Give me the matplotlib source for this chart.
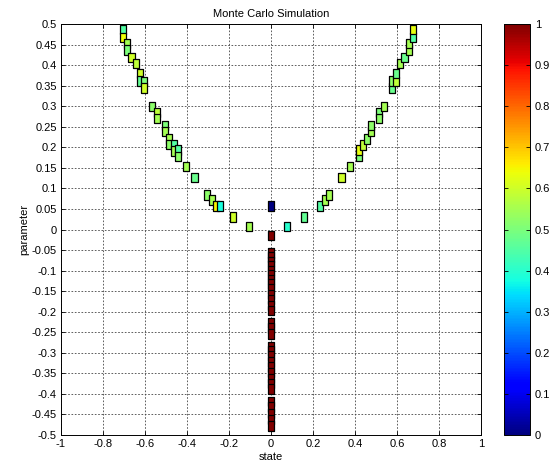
import numpy as np
import matplotlib
matplotlib.use('Agg')
import matplotlib.pyplot as plt

plt.rcParams['font.family'] = ['Liberation Sans', 'DejaVu Sans']
plt.rcParams['font.size'] = 8

# left branch of the V (state, parameter, colour value)
left_x = [-0.703, -0.703, -0.684, -0.684, -0.664, -0.641, -0.624, -0.624, -0.603, -0.603,
          -0.565, -0.541, -0.541, -0.503, -0.503, -0.484, -0.484, -0.463, -0.463, -0.443,
          -0.443, -0.403, -0.364, -0.303, -0.282, -0.263, -0.243, -0.182, -0.103]
left_y = [0.486, 0.467, 0.453, 0.437, 0.418, 0.404, 0.379, 0.361, 0.360, 0.344,
          0.299, 0.285, 0.270, 0.253, 0.238, 0.220, 0.207, 0.206, 0.191, 0.193,
          0.177, 0.153, 0.126, 0.084, 0.072, 0.057, 0.057, 0.030, 0.007]
left_c = [0.45, 0.64, 0.55, 0.50, 0.60, 0.58, 0.60, 0.47, 0.50, 0.60,
          0.52, 0.58, 0.55, 0.50, 0.55, 0.55, 0.52, 0.45, 0.55, 0.45,
          0.52, 0.55, 0.48, 0.52, 0.55, 0.65, 0.38, 0.60, 0.55]

# right branch
right_x = [0.078, 0.157, 0.235, 0.257, 0.278, 0.336, 0.376, 0.417, 0.417, 0.437,
           0.456, 0.478, 0.478, 0.516, 0.516, 0.537, 0.576, 0.576, 0.595, 0.595,
           0.616, 0.636, 0.657, 0.657, 0.676, 0.676]
right_y = [0.007, 0.030, 0.057, 0.072, 0.084, 0.126, 0.153, 0.177, 0.193, 0.206,
           0.220, 0.238, 0.253, 0.285, 0.270, 0.299, 0.344, 0.361, 0.360, 0.379,
           0.404, 0.418, 0.437, 0.453, 0.467, 0.486]
right_c = [0.40, 0.47, 0.45, 0.55, 0.55, 0.60, 0.55, 0.50, 0.63, 0.58,
           0.52, 0.55, 0.52, 0.50, 0.52, 0.55, 0.48, 0.52, 0.58, 0.48,
           0.55, 0.48, 0.55, 0.55, 0.45, 0.63]

# points on state = 0
mid_y = [0.057, -0.015,
         -0.057, -0.067, -0.078, -0.088, -0.100, -0.110, -0.122, -0.133, -0.145,
         -0.158, -0.170, -0.185, -0.197,
         -0.227, -0.240, -0.254,
         -0.284, -0.296, -0.308, -0.322, -0.335, -0.348, -0.362, -0.375, -0.388,
         -0.418, -0.432, -0.447, -0.462, -0.478]
mid_c = [0.0] + [1.0] * (len(mid_y) - 1)

xticks = [-1, -0.8, -0.6, -0.4, -0.2, 0, 0.2, 0.4, 0.6, 0.8, 1]
yticks = [0.5, 0.45, 0.4, 0.35, 0.3, 0.25, 0.2, 0.15, 0.1, 0.05, 0,
          -0.05, -0.1, -0.15, -0.2, -0.25, -0.3, -0.35, -0.4, -0.45, -0.5]
cticks = [0, 0.1, 0.2, 0.3, 0.4, 0.5, 0.6, 0.7, 0.8, 0.9, 1]

xs = left_x + right_x + [0.0] * len(mid_y)
ys = left_y + right_y + mid_y
cs = left_c + right_c + mid_c

# tall rectangle marker
box = [(-0.65, -1), (0.65, -1), (0.65, 1), (-0.65, 1), (-0.65, -1)]

fig = plt.figure(figsize=(5.51, 4.72), dpi=100)
ax = fig.add_axes([61/551, 37/472, 420/551, 411/472])
cax = fig.add_axes([504/551, 37/472, 26/551, 411/472])

sc = ax.scatter(xs, ys, c=cs, cmap='jet', vmin=0, vmax=1, marker=box, s=46,
                edgecolors='black', linewidths=0.9, zorder=3)

ax.set_xlim(-1, 1)
ax.set_ylim(-0.5, 0.5)
ax.set_xticks(xticks)
ax.set_xticklabels([f'{t:g}' for t in xticks])
ax.set_yticks(yticks)
ax.set_yticklabels([f'{t:g}' for t in yticks])
ax.tick_params(direction='in', top=True, right=True, length=3, width=0.6, pad=3)
ax.grid(True, linestyle=(0, (2, 2)), color='#444444', linewidth=0.6)
for s in ax.spines.values():
    s.set_linewidth(0.7)
ax.set_title('Monte Carlo Simulation', fontsize=8, pad=5)
ax.set_xlabel('state', labelpad=2)
ax.set_ylabel('parameter', labelpad=2)

cb = fig.colorbar(sc, cax=cax, ticks=cticks)
cb.ax.set_yticklabels([f'{t:g}' for t in cticks])
cb.ax.tick_params(direction='in', left=True, right=True, length=3, width=0.6)
cb.outline.set_linewidth(0.7)

fig.savefig('out.png', dpi=100)
